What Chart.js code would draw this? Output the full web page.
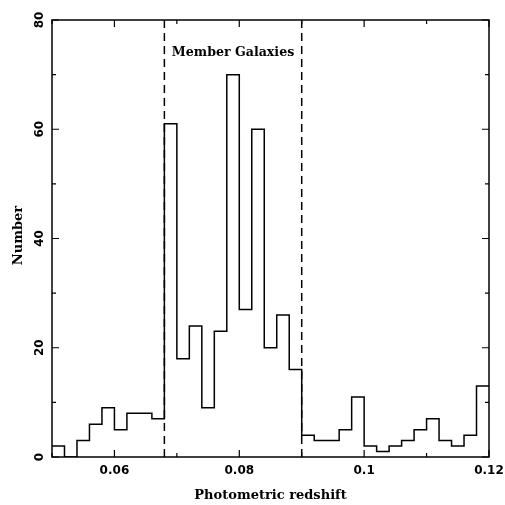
<!DOCTYPE html>
<html>
<head>
<meta charset="utf-8">
<script src="https://cdn.jsdelivr.net/npm/chart.js@4.4.1/dist/chart.umd.min.js"></script>
<style>
  html, body { margin: 0; padding: 0; background: #fff; }
  #wrap { width: 505px; height: 505px; }
</style>
</head>
<body>
<div id="wrap"><canvas id="chart"></canvas></div>
<script>
// histogram bins: left edges, width 0.002
const binStart = 0.05;
const binWidth = 0.002;
const counts = [2, 0, 3, 6, 9, 5, 8, 8, 7, 61, 18, 24, 9, 23, 70, 27, 60, 20, 26, 16,
                4, 3, 3, 5, 11, 2, 1, 2, 3, 5, 7, 3, 2, 4, 13];

// member galaxy limits (dashed lines)
const memberLimits = [0.068, 0.090];
const memberLabel = 'Member Galaxies';

// axes
const xRange = [0.05, 0.12];
const yRange = [0, 80];
const xMajor = [0.06, 0.08, 0.1, 0.12];
const xMinor = [0.05, 0.07, 0.09, 0.11];
const xLabels = ['0.06', '0.08', '0.1', '0.12'];
const yMajor = [0, 20, 40, 60, 80];
const yMinor = [10, 30, 50, 70];
const yLabels = ['0', '20', '40', '60', '80'];
const xTitle = 'Photometric redshift';
const yTitle = 'Number';

const TICK_FONT = 'bold 12px "DejaVu Sans"';
const TITLE_FONT = 'bold 13px "DejaVu Serif"';
const NOTE_FONT = 'bold 12.6px "DejaVu Serif"';

const histPoints = counts.map((c, i) => ({ x: binStart + i * binWidth, y: c }));
histPoints.push({ x: binStart + counts.length * binWidth, y: counts[counts.length - 1] });

const dashSets = memberLimits.map(z => ({
  data: [{ x: z, y: yRange[0] }, { x: z, y: yRange[1] }],
  borderColor: '#000',
  borderWidth: 1.5,
  borderDash: [8, 5],
  pointRadius: 0,
  fill: false
}));

// frame, inward ticks, labels and note
const framePlugin = {
  id: 'frame',
  afterDraw(chart) {
    const ctx = chart.ctx;
    const xs = chart.scales.x, ys = chart.scales.y;
    const a = chart.chartArea;
    ctx.save();
    ctx.strokeStyle = '#000';
    ctx.lineWidth = 1.5;
    ctx.strokeRect(a.left, a.top, a.right - a.left, a.bottom - a.top);

    ctx.lineWidth = 1.2;
    ctx.beginPath();
    const tickX = (v, len) => {
      const p = xs.getPixelForValue(v);
      ctx.moveTo(p, a.bottom); ctx.lineTo(p, a.bottom - len);
      ctx.moveTo(p, a.top); ctx.lineTo(p, a.top + len);
    };
    const tickY = (v, len) => {
      const p = ys.getPixelForValue(v);
      ctx.moveTo(a.left, p); ctx.lineTo(a.left + len, p);
      ctx.moveTo(a.right, p); ctx.lineTo(a.right - len, p);
    };
    xMajor.forEach(v => tickX(v, 7));
    xMinor.forEach(v => tickX(v, 4));
    yMajor.forEach(v => tickY(v, 7));
    yMinor.forEach(v => tickY(v, 4));
    ctx.stroke();

    ctx.fillStyle = '#000';
    ctx.textAlign = 'center';
    ctx.textBaseline = 'middle';
    ctx.font = TICK_FONT;
    xMajor.forEach((v, i) => ctx.fillText(xLabels[i], xs.getPixelForValue(v), a.bottom + 14));
    yMajor.forEach((v, i) => {
      ctx.save();
      ctx.translate(a.left - 12, ys.getPixelForValue(v));
      ctx.rotate(-Math.PI / 2);
      ctx.fillText(yLabels[i], 0, 0);
      ctx.restore();
    });

    ctx.font = TITLE_FONT;
    ctx.fillText(xTitle, (a.left + a.right) / 2, a.bottom + 39);
    ctx.save();
    ctx.translate(a.left - 33, (a.top + a.bottom) / 2 - 3);
    ctx.rotate(-Math.PI / 2);
    ctx.fillText(yTitle, 0, 0);
    ctx.restore();

    ctx.font = NOTE_FONT;
    ctx.fillText(memberLabel, xs.getPixelForValue(0.079), ys.getPixelForValue(74));
    ctx.restore();
  }
};

new Chart(document.getElementById('chart'), {
  type: 'line',
  data: {
    datasets: [
      {
        data: histPoints,
        stepped: 'before',
        borderColor: '#000',
        borderWidth: 1.5,
        pointRadius: 0,
        fill: false
      },
      ...dashSets
    ]
  },
  options: {
    responsive: true,
    maintainAspectRatio: false,
    animation: false,
    layout: { padding: { left: 52, right: 16, top: 20, bottom: 48 } },
    plugins: { legend: { display: false }, tooltip: { enabled: false } },
    scales: {
      x: { type: 'linear', min: xRange[0], max: xRange[1], display: false },
      y: { type: 'linear', min: yRange[0], max: yRange[1], display: false }
    }
  },
  plugins: [framePlugin]
});
</script>
</body>
</html>
